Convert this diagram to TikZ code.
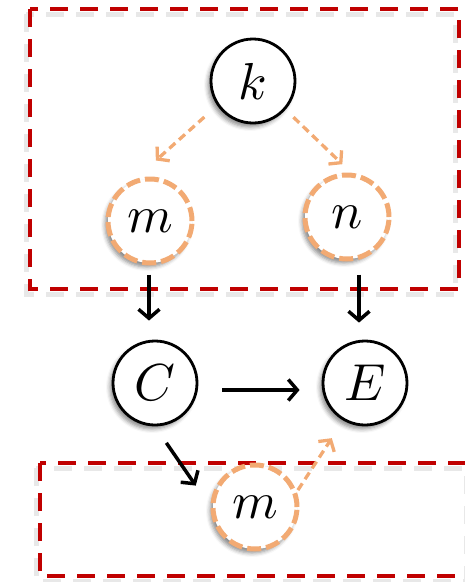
\documentclass[tikz,border=0pt]{standalone}
\usepackage{xcolor}
\usepackage{graphicx}
\usepackage{tikz}
\usetikzlibrary{arrows.meta,positioning,shadows.blur}
\definecolor{framered}{RGB}{192,0,0}
\definecolor{hintorange}{RGB}{242,170,115}
\newcommand{\varsym}[1]{\scalebox{5.2}{$#1$}}
\tikzset{
  var/.style     ={circle, draw=black, line width=2.8pt, fill=white, inner sep=0pt,
                   minimum size=84pt,
                   blur shadow={shadow xshift=-3pt, shadow yshift=-4pt,
                                shadow blur radius=4pt, shadow opacity=45}},
  latent/.style  ={var, draw=hintorange, line width=5pt, dash pattern=on 14pt off 5pt},
  flow/.style    ={-{Straight Barb[length=9pt,width=21pt]}, line width=3.5pt},
  hint/.style    ={-{Straight Barb[length=8pt,width=19pt]}, line width=3.3pt,
                   draw=hintorange, dash pattern=on 8pt off 5pt},
  frame/.style   ={draw=framered, line width=4.5pt, dash pattern=on 18pt off 12pt},
  frameshade/.style={draw=black!30, line width=5pt, dash pattern=on 18pt off 12pt, opacity=0.3},
}
\begin{document}
\begin{tikzpicture}[x=1pt,y=-1pt]
    \useasboundingbox (0,0) rectangle (464,582);
    \draw[frameshade] (26,14) rectangle (455,294);
    \draw[frameshade] (36,468) rectangle (466,581);
    \draw[frame] (30,9) rectangle (459,289);
    \draw[frame] (40,463) rectangle (470,576);
    \node[var] (nk) at (253,81) {\varsym{k}};
    \node[latent] (nm) at (150,221) {\varsym{m}};
    \node[latent] (nn) at (347,217) {\varsym{n}};
    \node[var] (nc) at (155,383) {\varsym{C}};
    \node[var] (ne) at (365,383) {\varsym{E}};
    \node[latent] (nmb) at (255,507) {\varsym{m}};
    \draw[hint, shorten <=8pt, shorten >=24pt] ([xshift=-12pt]nk.225) -- ([xshift=-12pt]nm.north);
    \draw[hint, shorten <=8pt, shorten >=12pt] ([xshift=4pt]nk.315) -- ([xshift=4pt]nn.north);
    \draw[flow, shorten <=9pt, shorten >=19pt] ([xshift=-1pt]nm.south) -- ([xshift=-6pt]nc.north);
    \draw[flow, shorten <=13pt, shorten >=17pt] ([xshift=12pt]nn.south) -- ([xshift=-6pt]ne.north);
    \draw[flow, shorten <=24pt, shorten >=22pt] ([yshift=-7pt]nc.east) -- ([yshift=-7pt]ne.west);
    \draw[flow, shorten <=20pt, shorten >=26pt] (nc.south) -- (nmb.west);
    \draw[hint, shorten <=2pt, shorten >=21pt] (nmb.20) -- (ne.240);
  \end{tikzpicture}
\end{document}
